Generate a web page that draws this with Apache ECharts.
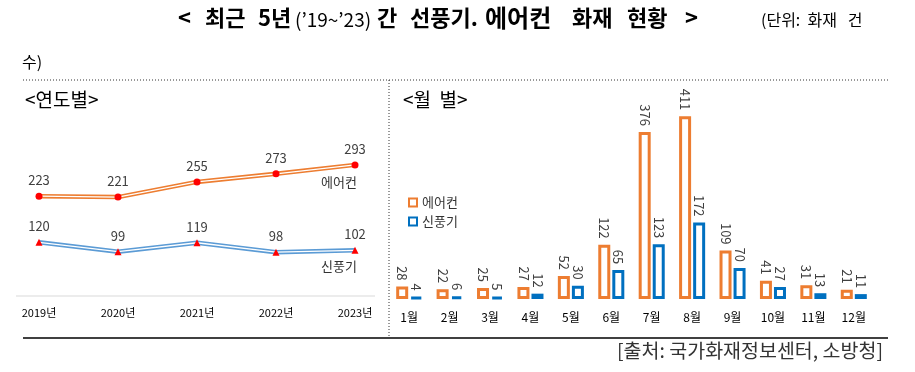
<!DOCTYPE html>
<html><head><meta charset="utf-8">
<script src="https://cdn.jsdelivr.net/npm/echarts@6/dist/echarts.min.js"></script>
<style>html,body{margin:0;padding:0;background:#fff}#c{width:915px;height:372px}</style>
</head><body><div id="c"></div>
<script>
const years = ['2019년','2020년','2021년','2022년','2023년'];
const yearAircon = [223, 221, 255, 273, 293];
const yearFan = [120, 99, 119, 98, 102];
const months = ['1월','2월','3월','4월','5월','6월','7월','8월','9월','10월','11월','12월'];
const monthAircon = [28, 22, 25, 27, 52, 122, 376, 411, 109, 41, 31, 21];
const monthFan = [4, 6, 5, 12, 30, 65, 123, 172, 70, 27, 13, 11];

const FONT = '"Noto Sans CJK KR", "Noto Sans", sans-serif';
const ORANGE = '#ED7D31', LBLUE = '#5B9BD5', BLUE = '#0070C0', RED = '#FF0000';

const chart = echarts.init(document.getElementById('c'));
const lineLabel = {show: true, position: 'top', distance: 6, color: '#404040', fontSize: 13, fontFamily: FONT};
const barLabel = {show: true, position: 'top', rotate: -90, align: 'right', verticalAlign: 'middle', distance: 6, color: '#404040', fontSize: 13, fontFamily: FONT};

const tb = {fontSize: 22, fontWeight: 'bold', fill: '#000', fontFamily: FONT, align: 'left'};
chart.setOption({
  animation: false,
  textStyle: {fontFamily: FONT},
  grid: [
    {left: 39, width: 316, top: 117, height: 179},
    {left: 389, width: 485, top: 99, height: 200}
  ],
  xAxis: [
    {type: 'category', gridIndex: 0, data: years, boundaryGap: false,
     axisLine: {show: false}, axisTick: {show: false},
     axisLabel: {margin: 11, fontSize: 11, color: '#000', fontFamily: FONT, interval: 0}},
    {type: 'category', gridIndex: 1, data: months,
     axisLine: {show: false}, axisTick: {show: false},
     axisLabel: {margin: 12, fontSize: 12, color: '#000', fontFamily: FONT, interval: 0}}
  ],
  yAxis: [
    {type: 'value', gridIndex: 0, min: 0, max: 400, show: false, splitLine: {show: false}},
    {type: 'value', gridIndex: 1, min: 0, max: 450, show: false, splitLine: {show: false}}
  ],
  legend: {
    data: ['에어컨', '신풍기'], orient: 'vertical', left: 403, top: 191,
    itemWidth: 8, itemHeight: 8, itemGap: 6, icon: 'rect',
    itemStyle: {borderWidth: 2},
    textStyle: {fontSize: 13, color: '#333', fontFamily: FONT}
  },
  series: [
    {type: 'line', xAxisIndex: 0, yAxisIndex: 0, data: yearAircon, symbol: 'none',
     lineStyle: {color: ORANGE, width: 4.5}, silent: true},
    {type: 'line', xAxisIndex: 0, yAxisIndex: 0, data: yearAircon, symbol: 'circle', symbolSize: 7,
     itemStyle: {color: RED}, lineStyle: {color: '#fff', width: 1.3}, label: lineLabel},
    {type: 'line', xAxisIndex: 0, yAxisIndex: 0, data: yearFan, symbol: 'none',
     lineStyle: {color: LBLUE, width: 4.5}, silent: true},
    {type: 'line', xAxisIndex: 0, yAxisIndex: 0, data: yearFan, symbol: 'triangle', symbolSize: 7,
     itemStyle: {color: RED}, lineStyle: {color: '#fff', width: 1.3}, label: lineLabel},
    {name: '에어컨', type: 'bar', xAxisIndex: 1, yAxisIndex: 1, data: monthAircon,
     barWidth: 12, barGap: '17%',
     itemStyle: {color: '#fff', borderColor: ORANGE, borderWidth: 3}, label: barLabel},
    {name: '신풍기', type: 'bar', xAxisIndex: 1, yAxisIndex: 1, data: monthFan,
     barWidth: 12,
     itemStyle: {color: '#fff', borderColor: BLUE, borderWidth: 3}, label: barLabel}
  ],
  graphic: [
    {type: 'text', left: 178, top: 6, style: {
      text: '{a|<}{b|최근}{c|5년}{s|(\u201919~\u201923)}{d|간}{e|선풍기.}{f|에어컨}{g|화재}{h|현황}{i|>}',
      rich: {
        a: Object.assign({}, tb, {width: 27}),
        b: Object.assign({}, tb, {width: 53}),
        c: Object.assign({}, tb, {width: 37}),
        s: {fontSize: 19, fill: '#000', fontFamily: FONT, width: 82, align: 'left', padding: [4, 0, 0, 0]},
        d: Object.assign({}, tb, {width: 33}),
        e: Object.assign({}, tb, {width: 75}),
        f: Object.assign({}, tb, {width: 87, fontSize: 24}),
        g: Object.assign({}, tb, {width: 55}),
        h: Object.assign({}, tb, {width: 58}),
        i: Object.assign({}, tb, {})
      }}},
    {type: 'text', left: 761, top: 12, style: {text: '(단위:  화재   건', fontSize: 16, fill: '#000', fontFamily: FONT}},
    {type: 'text', left: 22, top: 54, style: {text: '수)', fontSize: 16, fill: '#000', fontFamily: FONT}},
    {type: 'line', shape: {x1: 23, y1: 80, x2: 888, y2: 80}, style: {stroke: '#333', lineWidth: 1, lineDash: [1, 2]}},
    {type: 'line', shape: {x1: 389, y1: 80, x2: 389, y2: 338}, style: {stroke: '#333', lineWidth: 1, lineDash: [1, 2]}},
    {type: 'line', shape: {x1: 23, y1: 338, x2: 888, y2: 338}, style: {stroke: '#000', lineWidth: 1.5}},
    {type: 'line', shape: {x1: 16, y1: 296, x2: 375, y2: 296}, style: {stroke: '#d9d9d9', lineWidth: 1}},
    {type: 'text', left: 25, top: 90, style: {text: '<연도별>', fontSize: 19, fill: '#000', fontFamily: FONT}},
    {type: 'text', left: 403, top: 90, style: {text: '<월  별>', fontSize: 19, fill: '#000', fontFamily: FONT}},
    {type: 'text', right: 558, top: 176, style: {text: '에어컨', fontSize: 13, fill: '#333', fontFamily: FONT}},
    {type: 'text', right: 558, top: 260, style: {text: '신풍기', fontSize: 13, fill: '#333', fontFamily: FONT}},
    {type: 'text', right: 32, top: 341, style: {text: '[출처: 국가화재정보센터, 소방청]', fontSize: 19.5, fill: '#333', fontFamily: FONT}}
  ]
});
</script></body></html>
